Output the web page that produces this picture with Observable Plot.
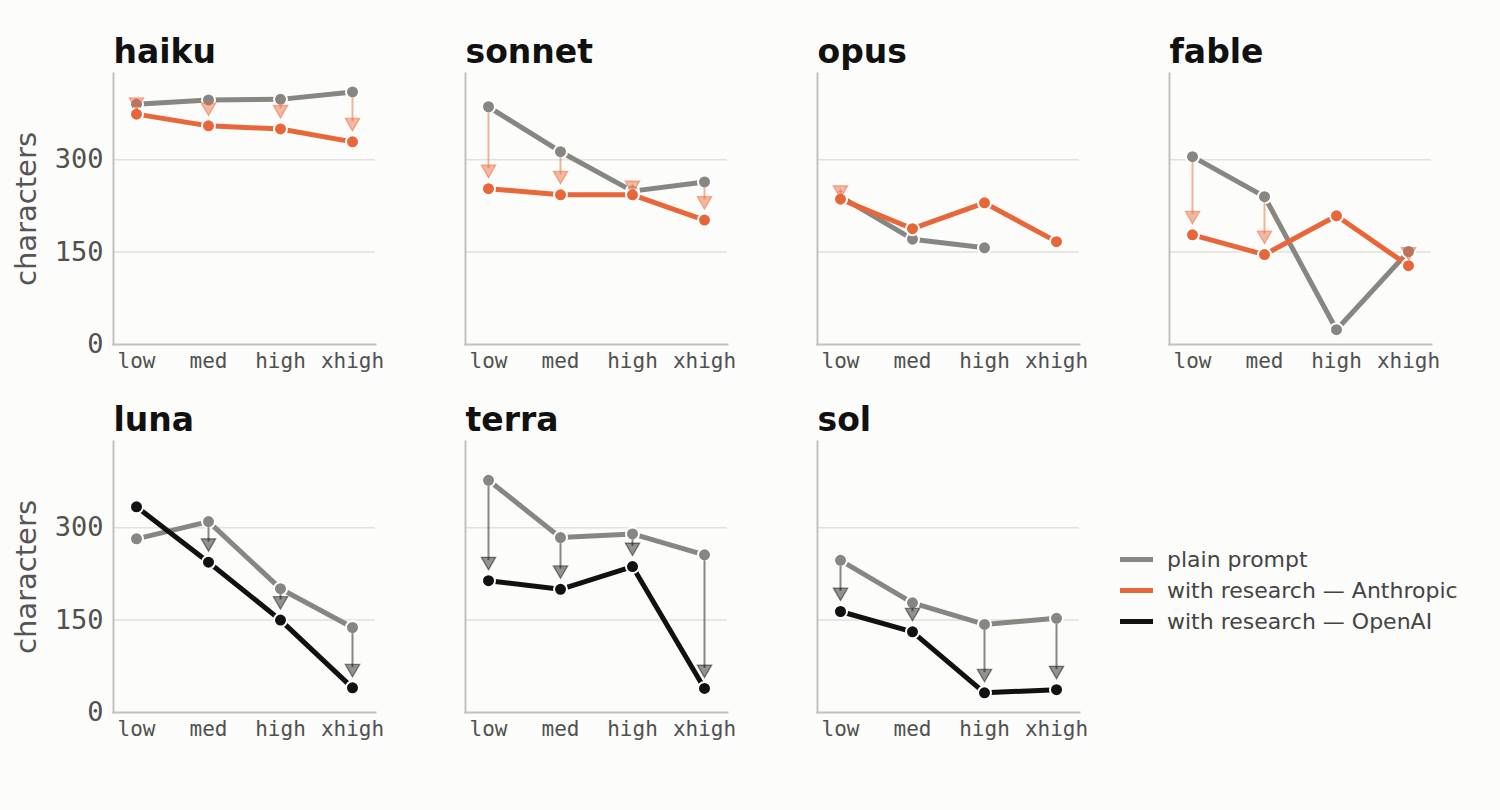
<!DOCTYPE html>
<html><head><meta charset="utf-8">
<script src="https://cdn.jsdelivr.net/npm/d3@7"></script>
<script src="https://cdn.jsdelivr.net/npm/@observablehq/plot@0.6"></script>
<style>
html,body{margin:0;padding:0;background:#fcfcfa;}
#wrap{position:relative;width:1500px;height:810px;}
#legend{position:absolute;left:1120px;top:544px;font-family:"DejaVu Sans",sans-serif;font-size:22px;color:#444;}
#legend .row{display:flex;align-items:center;height:31px;}
#legend .sw{width:33px;height:5px;margin-right:14px;}
</style></head><body><div id="wrap"><div id="chart"></div><div id="legend"></div></div>
<script>
const efforts = ["low", "med", "high", "xhigh"];
const models = ["haiku", "sonnet", "opus", "fable", "luna", "terra", "sol"];
const providers = ["Anthropic", "Anthropic", "Anthropic", "Anthropic", "OpenAI", "OpenAI", "OpenAI"];

const plainHaiku = [390, 397, 398, 410];
const researchHaiku = [374, 355, 350, 329];
const plainSonnet = [386, 313, 249, 264];
const researchSonnet = [253, 243, 243, 202];
const plainOpus = [240, 171, 157, null];
const researchOpus = [236, 188, 230, 167];
const plainFable = [305, 240, 24, 151];
const researchFable = [178, 146, 209, 128];
const plainLuna = [282, 310, 201, 138];
const researchLuna = [334, 244, 150, 40];
const plainTerra = [377, 284, 290, 256];
const researchTerra = [214, 200, 237, 39];
const plainSol = [247, 178, 143, 153];
const researchSol = [164, 131, 32, 37];

const yTicks = [0, 150, 300];
const yMax = 440;
const seriesLabels = ["plain prompt", "with research — Anthropic", "with research — OpenAI"];
const seriesColors = ["#878681", "#e8673a", "#111111"];
const yLabel = "characters";

const plainByModel = [plainHaiku, plainSonnet, plainOpus, plainFable, plainLuna, plainTerra, plainSol];
const researchByModel = [researchHaiku, researchSonnet, researchOpus, researchFable, researchLuna, researchTerra, researchSol];
const providerColor = {Anthropic: seriesColors[1], OpenAI: seriesColors[2]};
const gray = seriesColors[0];

const rows = [];
models.forEach((m, i) => {
  efforts.forEach((e, j) => {
    rows.push({model: m, provider: providers[i], col: i % 4, row: Math.floor(i / 4),
      effort: e, plain: plainByModel[i][j], research: researchByModel[i][j]});
  });
});
const panels = models.map((m, i) => ({model: m, col: i % 4, row: Math.floor(i / 4)}));
const arrows = rows.filter(d => d.plain != null && d.research < d.plain)
  .map(d => ({...d, tip: d.research + Math.min(18, 0.4 * (d.plain - d.research))}));
const yLabels = [{col: 0, row: 0, label: yLabel}, {col: 0, row: 1, label: yLabel}];

const F = {fx: "col", fy: "row"};
const marks = [
  Plot.gridY(yTicks.filter(t => t > 0), {stroke: "#e2e1db", strokeOpacity: 1, strokeWidth: 1.5}),
  Plot.frame({anchor: "left", stroke: "#c3c2b8", strokeWidth: 2}),
  Plot.frame({anchor: "bottom", stroke: "#c3c2b8", strokeWidth: 2}),
  Plot.axisY({ticks: yTicks, tickSize: 0, tickPadding: 10, fontSize: 27, fontFamily: "DejaVu Sans Mono", fill: "#505050", label: null, facetAnchor: "left"}),
  Plot.axisX({tickSize: 0, tickPadding: 9, fontSize: 21, fontFamily: "DejaVu Sans Mono", fill: "#505050", label: null, facetAnchor: null}),
  Plot.lineY(rows, {...F, x: "effort", y: "plain", stroke: gray, strokeWidth: 5}),
  ...["Anthropic", "OpenAI"].map(p => Plot.lineY(rows.filter(d => d.provider === p), {...F, x: "effort", y: "research", stroke: providerColor[p], strokeWidth: 5})),
  Plot.dot(rows.filter(d => d.plain != null), {...F, x: "effort", y: "plain", r: 6.5, fill: gray, stroke: "white", strokeWidth: 2}),
  ...["Anthropic", "OpenAI"].map(p => Plot.dot(rows.filter(d => d.provider === p), {...F, x: "effort", y: "research", r: 6.5, fill: providerColor[p], stroke: "white", strokeWidth: 2})),
  ...["Anthropic", "OpenAI"].map(p => Plot.ruleX(arrows.filter(d => d.provider === p), {...F, x: "effort", y1: "plain", y2: "tip", stroke: providerColor[p], strokeOpacity: 0.5, strokeWidth: 2, insetTop: 6, insetBottom: 9})),
  ...["Anthropic", "OpenAI"].map(p => Plot.dot(arrows.filter(d => d.provider === p), {...F, x: "effort", y: "tip", symbol: "triangle", rotate: 180, r: 5.3, dy: -8.2, fill: providerColor[p], fillOpacity: 0.45, stroke: providerColor[p], strokeOpacity: 0.5, strokeWidth: 1.3})),
  Plot.text(panels, {...F, text: "model", frameAnchor: "top-left", textAnchor: "start", lineAnchor: "bottom", dy: -11, fontSize: 33, fontWeight: "bold", fill: "#111", fontFamily: "DejaVu Sans"}),
  Plot.text(yLabels, {...F, text: "label", frameAnchor: "left", rotate: -90, textAnchor: "middle", lineAnchor: "bottom", dx: -78, fontSize: 29, fill: "#555", fontFamily: "DejaVu Sans"})
];

const chart = Plot.plot({
  width: 1500, height: 810,
  marginLeft: 113, marginRight: 69, marginTop: 73, marginBottom: 97,
  style: {background: "transparent", fontFamily: "DejaVu Sans", overflow: "visible"},
  fx: {domain: [0, 1, 2, 3], paddingInner: 0.256, paddingOuter: 0, axis: null},
  fy: {domain: [0, 1], paddingInner: 0.263, paddingOuter: 0, axis: null},
  x: {type: "point", domain: efforts, padding: 0.3},
  y: {domain: [0, yMax]},
  marks
});
document.getElementById("chart").appendChild(chart);

const legend = document.getElementById("legend");
seriesLabels.forEach((s, i) => {
  const r = document.createElement("div");
  r.className = "row";
  const sw = document.createElement("div");
  sw.className = "sw";
  sw.style.background = seriesColors[i];
  const t = document.createElement("span");
  t.textContent = s;
  r.appendChild(sw); r.appendChild(t);
  legend.appendChild(r);
});
</script></body></html>
